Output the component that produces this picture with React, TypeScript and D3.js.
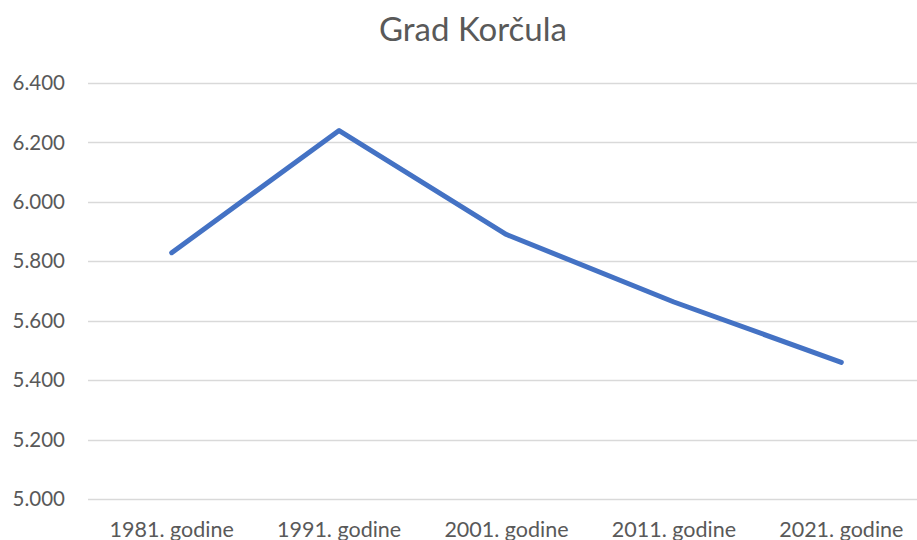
import React, { useEffect, useRef } from "react";
import * as d3 from "d3";

const title = "Grad Korčula";
const categories = ["1981. godine", "1991. godine", "2001. godine", "2011. godine", "2021. godine"];
const population = [5829, 6240, 5890, 5663, 5460];
const yTicks = [5000, 5200, 5400, 5600, 5800, 6000, 6200, 6400];

const width = 917;
const height = 540;
const margin = { top: 83, right: -8, bottom: 41, left: 88 };

const fmt = (v: number) => d3.format(",")(v).replace(/,/g, ".");

const App = () => {
  const svgRef = useRef<SVGSVGElement>(null);

  useEffect(() => {
    const svg = d3.select(svgRef.current);
    svg.selectAll("*").remove();

    const x = d3
      .scaleBand()
      .domain(categories)
      .range([margin.left, width - margin.right]);

    const y = d3
      .scaleLinear()
      .domain([5000, 6400])
      .range([height - margin.bottom, margin.top]);

    const font = "Lato, 'Open Sans', sans-serif";

    // grid
    svg
      .append("g")
      .selectAll("line")
      .data(yTicks)
      .join("line")
      .attr("x1", margin.left)
      .attr("x2", width)
      .attr("y1", (d) => Math.round(y(d)) + 0.5)
      .attr("y2", (d) => Math.round(y(d)) + 0.5)
      .attr("stroke", "#d9d9d9")
      .attr("stroke-width", 1.3);

    // y labels
    svg
      .append("g")
      .selectAll("text")
      .data(yTicks)
      .join("text")
      .attr("x", 65)
      .attr("y", (d) => y(d))
      .attr("dy", "0.35em")
      .attr("text-anchor", "end")
      .attr("font-family", font)
      .attr("font-size", 20.5)
      .attr("fill", "#595959")
      .text(fmt);

    // x labels
    svg
      .append("g")
      .selectAll("text")
      .data(categories)
      .join("text")
      .attr("x", (d) => x(d)! + x.bandwidth() / 2)
      .attr("y", 529)
      .attr("dy", "0.35em")
      .attr("text-anchor", "middle")
      .attr("font-family", font)
      .attr("font-size", 21.5)
      .attr("fill", "#595959")
      .text((d) => d);

    // line
    const ln = d3
      .line<number>()
      .x((_, i) => x(categories[i])! + x.bandwidth() / 2)
      .y((d) => y(d));

    svg
      .append("path")
      .datum(population)
      .attr("d", ln)
      .attr("fill", "none")
      .attr("stroke", "#4472c4")
      .attr("stroke-width", 5)
      .attr("stroke-linecap", "round")
      .attr("stroke-linejoin", "round");

    // title
    svg
      .append("text")
      .attr("x", 473)
      .attr("y", 29)
      .attr("dy", "0.35em")
      .attr("text-anchor", "middle")
      .attr("font-family", font)
      .attr("font-size", 33)
      .attr("fill", "#595959")
      .text(title);
  }, []);

  return (
    <svg
      ref={svgRef}
      width={width}
      height={height}
      style={{ position: "absolute", left: 0, top: 0, background: "#fff" }}
    />
  );
};

export default App;
